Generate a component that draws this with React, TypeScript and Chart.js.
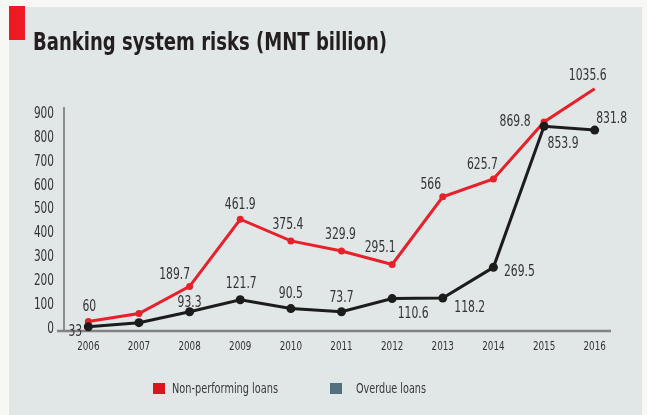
import React, { useEffect, useRef } from "react";
import { Chart, registerables } from "chart.js";

Chart.register(...registerables);

const years = ["2006", "2007", "2008", "2009", "2010", "2011", "2012", "2013", "2014", "2015", "2016"];
// plotted positions
const nplValues = [30, 63, 177, 459, 368, 326, 269, 553, 628, 867, 1007];
const overdueValues = [8, 25, 71, 121, 84, 71, 126, 128, 257, 849, 833];
// printed data labels
const nplLabels = ["60", "", "189.7", "461.9", "375.4", "329.9", "295.1", "566", "625.7", "869.8", "1035.6"];
const overdueLabels = ["33", "", "93.3", "121.7", "90.5", "73.7", "110.6", "118.2", "269.5", "853.9", "831.8"];
const yTicks = [0, 100, 200, 300, 400, 500, 600, 700, 800, 900];
const seriesNames = ["Non-performing loans", "Overdue loans"];
const titleText = "Banking system risks (MNT billion)";

// label placement relative to each point (layout, not data)
const NPL_LABEL_OFFSETS = [[1, -14], [0, 0], [-15, -11], [0, -14], [-3, -16], [-1, -16], [-12, -16], [-12, -12], [-11, -14], [-29, 0], [-7, -13]];
const OVD_LABEL_OFFSETS = [[-13, 5], [0, 0], [0, -9], [1, -16], [0, -14], [0, -14], [21, 16], [27, 10], [26, 5], [19, 18], [17, -11]];

const FONT = "'DejaVu Sans Condensed', 'DejaVu Sans', sans-serif";
const RED = "#e8202a";
const BLACK = "#1c1c1c";
const LEGEND_OVD = "#54707c";
const TEXT = "#333333";

function drawText(ctx: any, text: string, x: number, y: number, align: string, sx: number) {
  ctx.save();
  ctx.translate(x, y);
  ctx.scale(sx, 1);
  ctx.textAlign = align;
  ctx.fillText(text, 0, 0);
  ctx.restore();
}

const decorPlugin = {
  id: "decor",
  beforeDraw(chart: any) {
    const ctx = chart.ctx;
    ctx.save();
    ctx.fillStyle = "#f7f8f3";
    ctx.fillRect(0, 0, chart.width, chart.height);
    ctx.fillStyle = "#e1e6e6";
    ctx.fillRect(9, 7, 633, 408);
    ctx.fillStyle = "#ed1c24";
    ctx.fillRect(9, 6, 16, 34);
    // title
    ctx.font = `bold 24px ${FONT}`;
    ctx.fillStyle = "#231f20";
    ctx.textBaseline = "alphabetic";
    const w = ctx.measureText(titleText).width;
    drawText(ctx, titleText, 33, 50, "left", 354 / w);

    // legend
    ctx.font = `14px ${FONT}`;
    ctx.textBaseline = "middle";
    ctx.fillStyle = "#d9161f";
    ctx.fillRect(153, 383, 12, 11);
    ctx.fillStyle = "#3a3a3a";
    const w1 = ctx.measureText(seriesNames[0]).width;
    drawText(ctx, seriesNames[0], 172, 389, "left", 106 / w1);
    ctx.fillStyle = LEGEND_OVD;
    ctx.fillRect(330, 383, 12, 11);
    ctx.fillStyle = "#3a3a3a";
    const w2 = ctx.measureText(seriesNames[1]).width;
    drawText(ctx, seriesNames[1], 356, 389, "left", 70 / w2);
    ctx.restore();
  },
  beforeDatasetsDraw(chart: any) {
    const ctx = chart.ctx;
    const a = chart.chartArea;
    ctx.save();
    ctx.strokeStyle = "#6e6e6e";
    ctx.lineWidth = 1.5;
    ctx.beginPath();
    ctx.moveTo(64, a.top);
    ctx.lineTo(64, a.bottom + 1);
    ctx.stroke();
    ctx.strokeStyle = "#838383";
    ctx.lineWidth = 2.5;
    ctx.beginPath();
    ctx.moveTo(57, a.bottom);
    ctx.lineTo(611, a.bottom);
    ctx.stroke();

    // tick labels (condensed look)
    ctx.fillStyle = TEXT;
    ctx.textBaseline = "middle";
    ctx.font = `15px ${FONT}`;
    const ys = chart.scales.y;
    yTicks.forEach((v) => {
      drawText(ctx, String(v), 54, ys.getPixelForValue(v), "right", 0.78);
    });
    ctx.font = `13px ${FONT}`;
    const xs = chart.scales.x;
    years.forEach((yr, i) => {
      drawText(ctx, yr, xs.getPixelForValue(i), 347, "center", 0.75);
    });
    ctx.restore();
  },
  afterDatasetsDraw(chart: any) {
    const ctx = chart.ctx;
    ctx.save();
    ctx.font = `15px ${FONT}`;
    ctx.fillStyle = TEXT;
    ctx.textBaseline = "middle";
    const sets = [
      { idx: 0, labels: nplLabels, offs: NPL_LABEL_OFFSETS },
      { idx: 1, labels: overdueLabels, offs: OVD_LABEL_OFFSETS },
    ];
    sets.forEach((s) => {
      const meta = chart.getDatasetMeta(s.idx);
      meta.data.forEach((pt: any, i: number) => {
        const t = s.labels[i];
        if (!t) return;
        drawText(ctx, t, pt.x + s.offs[i][0], pt.y + s.offs[i][1], "center", 0.8);
      });
    });
    ctx.restore();
  },
};

export default function App() {
  const ref = useRef<HTMLCanvasElement | null>(null);
  useEffect(() => {
    if (!ref.current) return;
    const chart = new Chart(ref.current, {
      type: "line",
      data: {
        labels: years,
        datasets: [
          {
            label: seriesNames[0],
            data: nplValues,
            borderColor: RED,
            backgroundColor: RED,
            borderWidth: 3,
            pointRadius: 3.5,
            pointBackgroundColor: RED,
            pointBorderWidth: 0,
            tension: 0,
            clip: false as any,
            order: 1,
          },
          {
            label: seriesNames[1],
            data: overdueValues,
            borderColor: BLACK,
            backgroundColor: BLACK,
            borderWidth: 3,
            pointRadius: 4.5,
            pointBackgroundColor: BLACK,
            pointBorderWidth: 0,
            tension: 0,
            clip: false as any,
            order: 0,
          },
        ],
      },
      options: {
        animation: false,
        responsive: false,
        devicePixelRatio: 1,
        layout: { padding: { left: 0, top: 107, right: 27, bottom: 54 } },
        plugins: { legend: { display: false }, tooltip: { enabled: false } },
        scales: {
          x: {
            offset: true,
            grid: { display: false, drawTicks: false },
            border: { display: false },
            ticks: { display: false },
            afterFit: (s: any) => { s.height = 30; },
          },
          y: {
            min: -10,
            max: 930,
            grid: { display: false, drawTicks: false },
            border: { display: false },
            ticks: { display: false },
            afterBuildTicks: (axis: any) => { axis.ticks = yTicks.map((v) => ({ value: v })); },
            afterFit: (s: any) => { s.width = 63; },
          },
        },
      },
      plugins: [decorPlugin],
    });
    return () => chart.destroy();
  }, []);
  return (
    <div style={{ position: "fixed", left: 0, top: 0, width: 647, height: 415 }}>
      <canvas ref={ref} width={647} height={415} style={{ display: "block", width: 647, height: 415 }} />
    </div>
  );
}
